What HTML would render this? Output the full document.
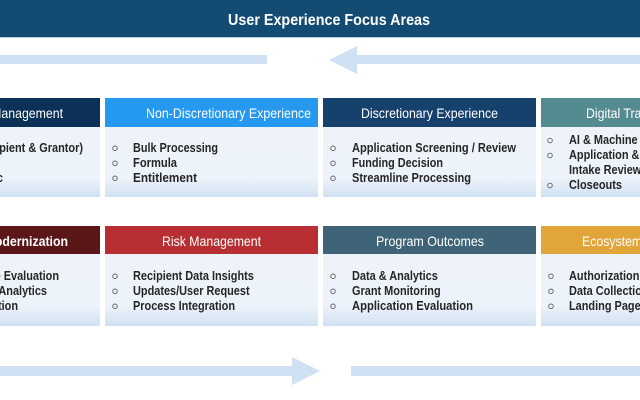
<!DOCTYPE html>
<html>
<head>
<meta charset="utf-8">
<style>
html,body{margin:0;padding:0;background:#fff;}
svg{display:block;}
.t{font-family:"Liberation Sans",Arial,sans-serif;}
.b{font-family:"Liberation Sans",Arial,sans-serif;font-weight:bold;font-size:12.5px;fill:#262626;}
.h{font-family:"Liberation Sans",Arial,sans-serif;font-size:14px;fill:#ffffff;}
</style>
</head>
<body>
<svg width="640" height="400" viewBox="0 0 640 400" xmlns="http://www.w3.org/2000/svg">
<defs>
<linearGradient id="bg" x1="0" y1="0" x2="0" y2="1">
<stop offset="0" stop-color="#eef3fa"/>
<stop offset="0.72" stop-color="#edf3fa"/>
<stop offset="1" stop-color="#d1e1f2"/>
</linearGradient>
</defs>
<rect x="0" y="0" width="640" height="400" fill="#ffffff"/>

<!-- Title bar -->
<rect x="0" y="0" width="640" height="37" fill="#134b73"/>
<rect x="0" y="37" width="640" height="1" fill="#b4cbe0"/>
<text class="t" x="329" y="25" text-anchor="middle" font-size="16" font-weight="bold" fill="#ffffff" textLength="202" lengthAdjust="spacingAndGlyphs">User Experience Focus Areas</text>

<!-- Top arrows -->
<rect x="0" y="55" width="267" height="9" fill="#cfe1f3"/>
<polygon points="329,60 357,46 357,55 640,55 640,64 357,64 357,74" fill="#cfe1f3"/>

<!-- Bottom arrows -->
<rect x="0" y="366" width="292" height="10" fill="#cfe1f3"/>
<polygon points="292,357 320,371 292,385" fill="#cfe1f3"/>
<rect x="351" y="366" width="289" height="10" fill="#cfe1f3"/>

<!-- Row 1 cards -->
<rect x="-113" y="98" width="213" height="29" fill="#0b3157"/>
<rect x="-113" y="127" width="213" height="70" fill="url(#bg)"/>
<rect x="105" y="98" width="213" height="29" fill="#2598ef"/>
<rect x="105" y="127" width="213" height="70" fill="url(#bg)"/>
<rect x="323" y="98" width="213" height="29" fill="#17416d"/>
<rect x="323" y="127" width="213" height="70" fill="url(#bg)"/>
<rect x="541" y="98" width="213" height="29" fill="#548b90"/>
<rect x="541" y="127" width="213" height="70" fill="url(#bg)"/>

<!-- Row 2 cards -->
<rect x="-113" y="226" width="213" height="28" fill="#5b1617"/>
<rect x="-113" y="254" width="213" height="72" fill="url(#bg)"/>
<rect x="105" y="226" width="213" height="28" fill="#b72f33"/>
<rect x="105" y="254" width="213" height="72" fill="url(#bg)"/>
<rect x="323" y="226" width="213" height="28" fill="#3f6477"/>
<rect x="323" y="254" width="213" height="72" fill="url(#bg)"/>
<rect x="541" y="226" width="213" height="28" fill="#e1a53a"/>
<rect x="541" y="254" width="213" height="72" fill="url(#bg)"/>

<!-- Headers row 1 -->
<text class="h" text-anchor="end" transform="translate(63,118) scale(0.88,1)">Grants Management</text>
<text class="h" x="146" y="118" textLength="165" lengthAdjust="spacingAndGlyphs">Non-Discretionary Experience</text>
<text class="h" x="361" y="118" textLength="137" lengthAdjust="spacingAndGlyphs">Discretionary Experience</text>
<text class="h" transform="translate(586,118) scale(0.88,1)">Digital Transformation</text>

<!-- Headers row 2 -->
<text class="h" font-weight="bold" text-anchor="end" transform="translate(68,246) scale(0.88,1)">IT Modernization</text>
<text class="h" x="162" y="246" textLength="99" lengthAdjust="spacingAndGlyphs">Risk Management</text>
<text class="h" x="376" y="246" textLength="108" lengthAdjust="spacingAndGlyphs">Program Outcomes</text>
<text class="h" transform="translate(582,246) scale(0.88,1)">Ecosystem Integration</text>

<!-- Bullets -->
<g fill="none" stroke="#666" stroke-width="0.9">
<circle cx="115" cy="148.3" r="2.3"/><circle cx="115" cy="163.3" r="2.3"/><circle cx="115" cy="178.3" r="2.3"/>
<circle cx="333" cy="148.3" r="2.3"/><circle cx="333" cy="163.3" r="2.3"/><circle cx="333" cy="178.3" r="2.3"/>
<circle cx="550" cy="140.5" r="2.3"/><circle cx="550" cy="155.5" r="2.3"/><circle cx="550" cy="185.5" r="2.3"/>
<circle cx="115" cy="276.3" r="2.3"/><circle cx="115" cy="291.3" r="2.3"/><circle cx="115" cy="306.3" r="2.3"/>
<circle cx="333" cy="276.3" r="2.3"/><circle cx="333" cy="291.3" r="2.3"/><circle cx="333" cy="306.3" r="2.3"/>
<circle cx="551" cy="276.3" r="2.3"/><circle cx="551" cy="291.3" r="2.3"/><circle cx="551" cy="306.3" r="2.3"/>
</g>

<!-- Row 1 body text -->
<text class="b" text-anchor="end" transform="translate(83,152) scale(0.875,1)">User Roles (Recipient &amp; Grantor)</text>
<text class="b" text-anchor="end" transform="translate(-20,167) scale(0.875,1)">Profile</text>
<text class="b" text-anchor="end" transform="translate(3,182) scale(0.875,1)">Account Sync</text>

<text class="b" x="133" y="152" textLength="85" lengthAdjust="spacingAndGlyphs">Bulk Processing</text>
<text class="b" x="133" y="167" textLength="44" lengthAdjust="spacingAndGlyphs">Formula</text>
<text class="b" x="133" y="182" textLength="64" lengthAdjust="spacingAndGlyphs">Entitlement</text>

<text class="b" x="352" y="152" textLength="164" lengthAdjust="spacingAndGlyphs">Application Screening / Review</text>
<text class="b" x="352" y="167" textLength="91" lengthAdjust="spacingAndGlyphs">Funding Decision</text>
<text class="b" x="352" y="182" textLength="119" lengthAdjust="spacingAndGlyphs">Streamline Processing</text>

<text class="b" transform="translate(569,144) scale(0.875,1)">AI &amp; Machine Learning</text>
<text class="b" transform="translate(569,159) scale(0.875,1)">Application &amp; Proposal</text>
<text class="b" transform="translate(569,174) scale(0.875,1)">Intake Review</text>
<text class="b" x="569" y="189" textLength="53" lengthAdjust="spacingAndGlyphs">Closeouts</text>

<!-- Row 2 body text -->
<text class="b" text-anchor="end" transform="translate(59,280) scale(0.875,1)">Performance Evaluation</text>
<text class="b" text-anchor="end" transform="translate(47,295) scale(0.875,1)">Predictive Analytics</text>
<text class="b" text-anchor="end" transform="translate(18,310) scale(0.875,1)">Automation</text>

<text class="b" transform="translate(133,280) scale(0.875,1)">Recipient Data Insights</text>
<text class="b" transform="translate(133,295) scale(0.875,1)">Updates/User Request</text>
<text class="b" transform="translate(133,310) scale(0.875,1)">Process Integration</text>

<text class="b" transform="translate(352,280) scale(0.875,1)">Data &amp; Analytics</text>
<text class="b" transform="translate(352,295) scale(0.875,1)">Grant Monitoring</text>
<text class="b" x="352" y="310" textLength="121" lengthAdjust="spacingAndGlyphs">Application Evaluation</text>

<text class="b" transform="translate(569,280) scale(0.875,1)">Authorization</text>
<text class="b" transform="translate(569,295) scale(0.875,1)">Data Collection</text>
<text class="b" transform="translate(569,310) scale(0.875,1)">Landing Page</text>
</svg>
</body>
</html>
